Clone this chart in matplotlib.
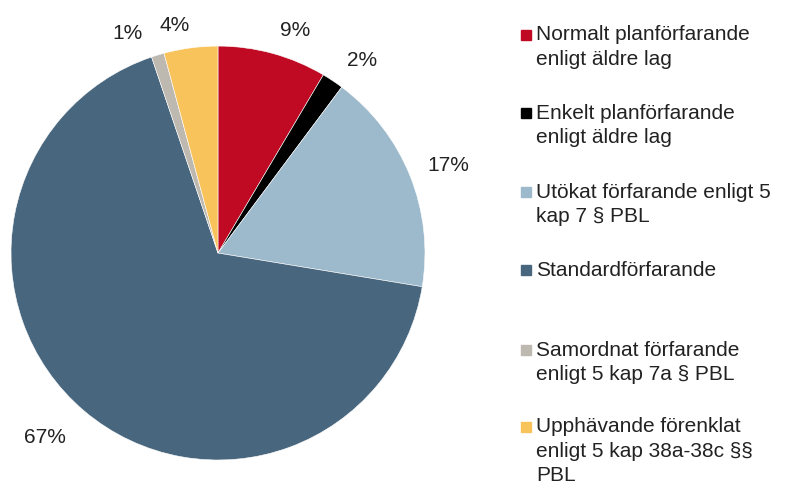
import numpy as np
import matplotlib
matplotlib.use("Agg")
import matplotlib.pyplot as plt
from matplotlib.patches import Rectangle

plt.rcParams['font.family'] = ['Liberation Sans', 'DejaVu Sans']

# andelar (%), medurs fran kl 12
categories = ["Normalt planförfarande\nenligt äldre lag",
              "Enkelt planförfarande\nenligt äldre lag",
              "Utökat förfarande enligt 5\nkap 7 § PBL",
              "Standardförfarande",
              "Samordnat förfarande\nenligt 5 kap 7a § PBL",
              "Upphävande förenklat\nenligt 5 kap 38a-38c §§\nPBL"]
values = [8.5, 1.7, 17.4, 67.2, 1.0, 4.2]
pct_labels = ["9%", "2%", "17%", "67%", "1%", "4%"]
colors = ["#C00A23", "#000000", "#9DB9CC", "#48677E", "#BDB8B0", "#F9C35B"]

fig = plt.figure(figsize=(7.89, 4.87), dpi=100)
ax = fig.add_axes([0.01394, 0.0554, 0.5247, 0.850])
wedges, _ = ax.pie(values, colors=colors, startangle=90, counterclock=False,
                   radius=1, wedgeprops=dict(edgecolor="white", linewidth=0.4))
ax.set_xlim(-1, 1)
ax.set_ylim(-1, 1)
ax.set_aspect('auto')

# etiketter: radie och vinkelforskjutning per etikett
lab_r = [1.14, 1.163, 1.19, 1.22, 1.149, 1.12]
lab_shift = [3.8, 3.2, 1.1, 2.9, -5.4, -3.1]
for w, txt, r, s in zip(wedges, pct_labels, lab_r, lab_shift):
    mid = (w.theta1 + w.theta2) / 2 - s
    a = np.deg2rad(mid)
    ax.text(r * np.cos(a), r * np.sin(a), txt, ha="center", va="center",
            fontsize=15, color="#222222")

# legend, manuellt placerad
leg_y = [35, 113, 192, 270, 350, 427]
for y, lab, c in zip(leg_y, categories, colors):
    fy = 1 - y / 487
    fig.patches.append(Rectangle((521 / 789, fy - 5 / 487), 10 / 789, 10 / 487,
                                 color=c, transform=fig.transFigure))
    fig.text(536 / 789, fy + 9.5 / 487, lab, ha="left", va="top", fontsize=15,
             color="#222222", linespacing=1.34)

fig.savefig("out.png", dpi=100)
